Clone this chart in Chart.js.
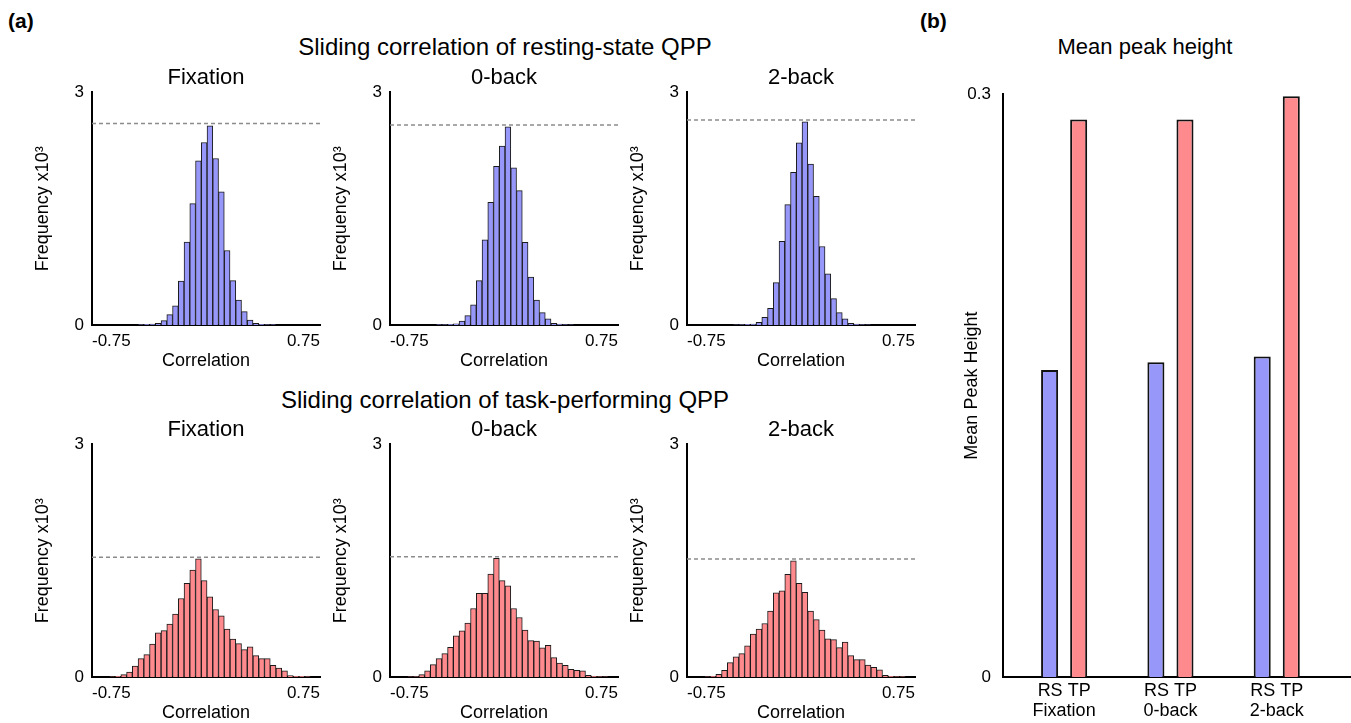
<!DOCTYPE html>
<html>
<head>
<meta charset="utf-8">
<script src="https://cdn.jsdelivr.net/npm/chart.js@4.4.0/dist/chart.umd.min.js"></script>
<style>
  body { margin: 0; background: #fff; font-family: "Liberation Sans", Arial, sans-serif; }
  #fig { position: relative; width: 1351px; height: 723px; overflow: hidden; }
  canvas { position: absolute; }
  .txt { position: absolute; white-space: nowrap; color: #000; line-height: 26px; }
  .big { font-size: 24px; transform: translateX(-50%); }
  .lbl { font-size: 21px; font-weight: bold; }
</style>
</head>
<body>
<div id="fig">
  <div class="txt lbl" style="left:8px; top:8px;">(a)</div>
  <div class="txt lbl" style="left:920px; top:8px;">(b)</div>
  <div class="txt big" style="left:505px; top:34px;">Sliding correlation of resting-state QPP</div>
  <div class="txt big" style="left:505px; top:387px;">Sliding correlation of task-performing QPP</div>
  <div class="txt big" style="left:1145px; top:34px; font-size:22px;">Mean peak height</div>

  <canvas id="rsFix" width="296" height="310" style="left:30px; top:65px;"></canvas>
  <canvas id="rs0" width="296" height="310" style="left:328px; top:65px;"></canvas>
  <canvas id="rs2" width="296" height="310" style="left:625px; top:65px;"></canvas>
  <canvas id="tpFix" width="296" height="310" style="left:30px; top:417px;"></canvas>
  <canvas id="tp0" width="296" height="310" style="left:328px; top:417px;"></canvas>
  <canvas id="tp2" width="296" height="310" style="left:625px; top:417px;"></canvas>
  <canvas id="peaks" width="401" height="651" style="left:950px; top:72px;"></canvas>
</div>

<script>
Chart.defaults.font.family = '"Liberation Sans", Arial, sans-serif';
Chart.defaults.color = '#000';

// histogram bins (correlation, bin centres)
const binCenters = [
  -0.6547, -0.6169, -0.5791, -0.5413, -0.5035, -0.4657, -0.4279, -0.3901, -0.3523,
  -0.3145, -0.2767, -0.2389, -0.2011, -0.1633, -0.1255, -0.0877, -0.0499, -0.0121,
  0.0257, 0.0635, 0.1013, 0.1391, 0.1769, 0.2147, 0.2525, 0.2903, 0.3281, 0.3659,
  0.4037, 0.4415, 0.4793, 0.5171, 0.5549, 0.5927, 0.6305, 0.6683
];
const xTicks = [-0.75, 0.75];
const yTicks = [0, 3];

// frequency x10^3, resting-state QPP
const rsFixation = [0, 0, 0, 0, 0, 0, 0.005, 0.008, 0.012, 0.02,
  0.056, 0.133, 0.246, 0.565, 1.07, 1.565, 2.118, 2.354, 2.57, 2.147, 1.717, 0.961, 0.573, 0.323, 0.172, 0.065,
  0.02, 0.01, 0.006, 0.004, 0, 0, 0, 0, 0, 0];
const rs0back = [0, 0, 0, 0, 0, 0, 0.004, 0.006, 0.01, 0.015,
  0.052, 0.12, 0.259, 0.573, 1.10, 1.582, 2.048, 2.307, 2.557, 2.027, 1.733, 1.065, 0.617, 0.323, 0.159, 0.078,
  0.02, 0.012, 0.006, 0.003, 0, 0, 0, 0, 0, 0];
const rs2back = [0, 0, 0, 0, 0, 0, 0.003, 0.005, 0.008, 0.012,
  0.035, 0.10, 0.216, 0.547, 1.078, 1.552, 1.97, 2.351, 2.622, 2.074, 1.66, 1.013, 0.66, 0.34, 0.159, 0.078,
  0.02, 0.012, 0.006, 0.003, 0, 0, 0, 0, 0, 0];

// frequency x10^3, task-performing QPP
const tpFixation = [0, 0.003, 0.008,
  0.03, 0.065, 0.142, 0.237, 0.288, 0.423, 0.569, 0.599, 0.682, 0.811, 1.013, 1.207, 1.38, 1.523,
  1.242, 1.035, 0.871, 0.789, 0.617, 0.488, 0.431, 0.353, 0.388, 0.276, 0.237, 0.237, 0.151, 0.116, 0.078, 0.017,
  0.01, 0.008, 0.005];
const tp0back = [0, 0.002, 0.006,
  0.03, 0.078, 0.159, 0.237, 0.301, 0.384, 0.53, 0.595, 0.695, 0.884, 1.078, 1.078, 1.329, 1.53,
  1.242, 1.177, 0.884, 0.767, 0.604, 0.47, 0.462, 0.375, 0.41, 0.25, 0.181, 0.151, 0.1, 0.087, 0.078, 0.02, 0.01,
  0.006, 0.003];
const tp2back = [0, 0.003, 0.008,
  0.035, 0.087, 0.185, 0.259, 0.301, 0.401, 0.552, 0.617, 0.69, 0.85, 1.087, 1.113, 1.323, 1.497,
  1.207, 1.091, 0.85, 0.741, 0.604, 0.492, 0.483, 0.379, 0.449, 0.276, 0.224, 0.224, 0.155, 0.125, 0.094, 0.02, 0.01,
  0.006, 0.004];

// dashed reference lines (peak level)
const peakLines = { rsFix: 2.60, rs0: 2.578, rs2: 2.643, tpFix: 1.543, tp0: 1.552, tp2: 1.523 };

// panel (b)
const conditions = ['Fixation', '0-back', '2-back'];
const conditionPos = [1, 2, 3];
const rsPeak = [0.158, 0.162, 0.165];
const tpPeak = [0.287, 0.287, 0.299];

const BLUE = 'rgb(151,151,250)';
const RED = 'rgb(255,138,142)';

function makeHist(id, title, values, peak, color) {
  return new Chart(document.getElementById(id), {
    type: 'bar',
    data: {
      datasets: [
        {
          type: 'line',
          data: [{ x: xTicks[0], y: peak }, { x: xTicks[1], y: peak }],
          borderColor: '#8c8c8c',
          borderWidth: 1.5,
          borderDash: [4, 3],
          pointRadius: 0,
          order: 1
        },
        {
          type: 'bar',
          data: binCenters.map((x, i) => ({ x: x, y: values[i] })),
          backgroundColor: color,
          borderColor: '#1a1a1a',
          borderWidth: 1,
          borderSkipped: 'start',
          barPercentage: 1,
          categoryPercentage: 1,
          order: 2
        }
      ]
    },
    options: {
      responsive: false,
      animation: false,
      layout: { padding: { left: 0, right: 2, top: 0, bottom: 0 } },
      plugins: {
        legend: { display: false },
        tooltip: { enabled: false },
        title: {
          display: true, text: title, fullSize: false,
          font: { size: 22, weight: 'normal' }, color: '#000',
          padding: { top: 0, bottom: 1 }
        }
      },
      scales: {
        x: {
          type: 'linear', min: xTicks[0], max: xTicks[1], offset: false,
          grid: { display: false, drawTicks: false, offset: false },
          border: { display: true, color: '#000', width: 2 },
          afterBuildTicks: s => { s.ticks = xTicks.map(v => ({ value: v })); },
          ticks: { align: 'inner', padding: 6, maxRotation: 0, font: { size: 17 }, callback: v => String(v) },
          title: { display: true, text: 'Correlation', font: { size: 18 }, padding: { top: 0, bottom: 3 } },
          afterFit: s => { s.height = 50; }
        },
        y: {
          min: yTicks[0], max: yTicks[1],
          grid: { display: false, drawTicks: false },
          border: { display: true, color: '#000', width: 2 },
          afterBuildTicks: s => { s.ticks = yTicks.map(v => ({ value: v })); },
          ticks: { padding: 8, font: { size: 17 } },
          title: { display: true, text: 'Frequency x10³', font: { size: 18 }, padding: { top: 2, bottom: 0 } },
          afterFit: s => { s.width = 62; }
        }
      }
    }
  });
}

makeHist('rsFix', 'Fixation', rsFixation, peakLines.rsFix, BLUE);
makeHist('rs0', '0-back', rs0back, peakLines.rs0, BLUE);
makeHist('rs2', '2-back', rs2back, peakLines.rs2, BLUE);
makeHist('tpFix', 'Fixation', tpFixation, peakLines.tpFix, RED);
makeHist('tp0', '0-back', tp0back, peakLines.tp0, RED);
makeHist('tp2', '2-back', tp2back, peakLines.tp2, RED);

// (b) mean peak height
new Chart(document.getElementById('peaks'), {
  type: 'bar',
  data: {
    datasets: [
      {
        label: 'RS',
        data: conditionPos.map((x, i) => ({ x: x, y: rsPeak[i] })),
        backgroundColor: BLUE, borderColor: '#111', borderWidth: 2, borderSkipped: 'start',
        barPercentage: 0.586, categoryPercentage: 0.547
      },
      {
        label: 'TP',
        data: conditionPos.map((x, i) => ({ x: x, y: tpPeak[i] })),
        backgroundColor: RED, borderColor: '#111', borderWidth: 2, borderSkipped: 'start',
        barPercentage: 0.586, categoryPercentage: 0.547
      }
    ]
  },
  options: {
    responsive: false,
    animation: false,
    layout: { padding: { left: 0, right: 1, top: 0, bottom: 0 } },
    plugins: { legend: { display: false }, tooltip: { enabled: false } },
    scales: {
      x: {
        type: 'linear', min: 0.425, max: 3.689, offset: false,
        grid: { display: false, drawTicks: false, offset: false },
        border: { display: true, color: '#000', width: 2 },
        afterBuildTicks: s => { s.ticks = conditionPos.map(v => ({ value: v })); },
        ticks: {
          padding: 4, maxRotation: 0, autoSkip: false,
          font: { size: 18, lineHeight: 1.12 },
          callback: v => ['RS TP', conditions[conditionPos.indexOf(v)]]
        },
        afterFit: s => { s.height = 46; }
      },
      y: {
        min: 0, max: 0.3,
        grid: { display: false, drawTicks: false },
        border: { display: true, color: '#000', width: 2 },
        afterBuildTicks: s => { s.ticks = [{ value: 0 }, { value: 0.3 }]; },
        ticks: { padding: 12, font: { size: 17 }, callback: v => String(v) },
        title: { display: true, text: 'Mean Peak Height', font: { size: 18 }, padding: { top: 11, bottom: 0 } },
        afterFit: s => { s.width = 53; }
      }
    }
  }
});
</script>
</body>
</html>
